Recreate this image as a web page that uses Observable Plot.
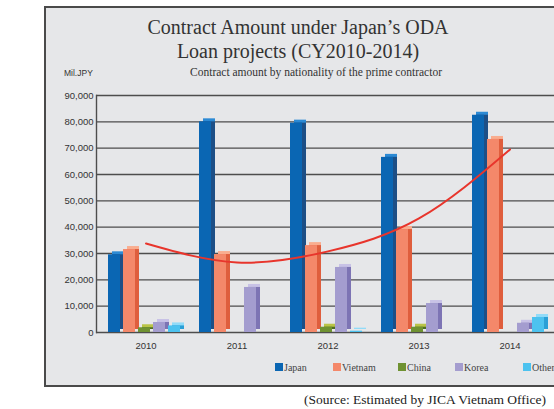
<!DOCTYPE html>
<html><head><meta charset="utf-8">
<script src="https://cdn.jsdelivr.net/npm/d3@7"></script>
<script src="https://cdn.jsdelivr.net/npm/@observablehq/plot@0.6"></script>
<style>
html,body{margin:0;padding:0;background:#fff;width:554px;height:409px;overflow:hidden;position:relative;}
#frame{position:absolute;left:44px;top:6px;width:540px;height:377px;background:#e6e7e9;border:2px solid #4a4a4a;box-sizing:content-box;}
.t{position:absolute;white-space:nowrap;}
#title{left:98px;width:400px;top:15px;text-align:center;font-family:"Liberation Serif",serif;font-size:20px;line-height:24px;color:#333;}
#sub{left:116px;width:400px;top:66px;text-align:center;font-family:"Liberation Serif",serif;font-size:11.5px;color:#333;}
#unit{left:64px;top:68px;font-family:"Liberation Sans",sans-serif;font-size:8.5px;color:#333;}
#legend{left:0;top:362px;width:554px;height:14px;font-family:"Liberation Serif",serif;font-size:10px;color:#444;}
.li{position:absolute;top:0;line-height:12px;}
.sw{display:inline-block;width:8px;height:8px;margin-right:1px;vertical-align:-0px;}
#source{left:304px;top:392px;font-family:"Liberation Serif",serif;font-size:13.5px;color:#222;}
#chart{position:absolute;left:0;top:0;}
</style></head>
<body>
<div id="frame"></div>
<div class="t" id="title">Contract Amount under Japan’s ODA<br>Loan projects (CY2010-2014)</div>
<div class="t" id="unit">Mil.JPY</div>
<div class="t" id="sub">Contract amount by nationality of the prime contractor</div>
<div id="chart"></div>
<div class="t" id="legend"></div>
<div class="t" id="source">(Source: Estimated by JICA Vietnam Office)</div>
<script>
const years = ["2010","2011","2012","2013","2014"];
const countries = ["Japan","Vietnam","China","Korea","Others"];
const japan   = [29500, 80000, 79500, 66500, 82500];
const vietnam = [31500, 29600, 33000, 39100, 73300];
const china   = [1800, 0, 2000, 2000, 0];
const korea   = [3800, 17100, 24700, 11000, 3500];
const others  = [2500, 0, 500, 0, 5700];
const trend   = [33800, 26600, 30800, 43300, 69500];
const yTicks  = [0,10000,20000,30000,40000,50000,60000,70000,80000,90000];

const series = [japan, vietnam, china, korea, others];
const faceColors = ["#0a66b3","#f4886a","#6f9232","#a49dcf","#4cc2ef"];
const sideColors = ["#1d4f86","#df5e3d","#4e6d22","#7d74b4","#2a9fd6"];
const topColors  = ["#2c8ad4","#f9ad8f","#b9c447","#c8c2e6","#91dbf8"];

const rows = countries.map((c, i) => years.map((y, j) => ({country: c, year: y, value: series[i][j]})).filter(d => d.value > 0));
const trendRows = years.map((y, j) => ({year: y, value: trend[j]}));

const marks = [
  Plot.ruleY(yTicks, {stroke: "#4d4d4d", strokeWidth: 1.4}),
  Plot.frame({anchor: "left", stroke: "#4d4d4d", strokeWidth: 1.4}),
  Plot.axisY({ticks: yTicks, tickFormat: d3.format(","), tickSize: 0, tickPadding: 3, fontSize: 9.5, fontFamily: "Liberation Sans", color: "#333", label: null}),
  Plot.axisX({tickSize: 0, tickPadding: 10, fontSize: 9.5, fontFamily: "Liberation Sans", color: "#333", label: null})
];
rows.forEach((data, i) => {
  const inL = 8 + 15 * i, inR = 71 - 15 * i;
  marks.push(Plot.barY(data, {x: "year", y: "value", fill: topColors[i], insetLeft: inL, insetRight: inR, dx: 4, dy: -3}));
  marks.push(Plot.barY(data, {x: "year", y: "value", fill: sideColors[i], insetLeft: inL, insetRight: inR, dx: 4, dy: -3, insetTop: 3}));
  marks.push(Plot.barY(data, {x: "year", y: "value", fill: faceColors[i], insetLeft: inL, insetRight: inR}));
});
marks.push(Plot.line(trendRows, {x: "year", y: "value", stroke: "#e8352c", strokeWidth: 2, curve: "natural"}));

const chart = Plot.plot({
  width: 554, height: 409,
  marginLeft: 96, marginRight: 0, marginTop: 95, marginBottom: 77,
  style: {background: "transparent", overflow: "visible"},
  x: {domain: years, range: [100, 555], padding: 0, axis: null},
  y: {domain: [0, 90000], axis: null},
  marks
});
document.getElementById("chart").appendChild(chart);

const legendX = [275, 333, 398, 455, 523];
const leg = document.getElementById("legend");
countries.forEach((c, i) => {
  const s = document.createElement("span");
  s.className = "li";
  s.style.left = legendX[i] + "px";
  s.innerHTML = `<span class="sw" style="background:${faceColors[i]}"></span>${c}`;
  leg.appendChild(s);
});
</script>
</body></html>
